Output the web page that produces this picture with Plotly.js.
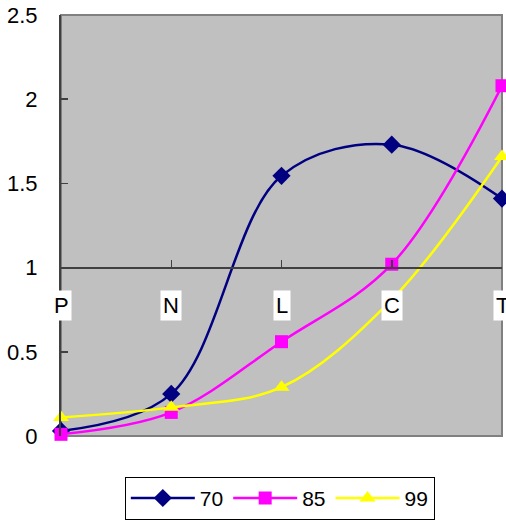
<!DOCTYPE html>
<html>
<head>
<meta charset="utf-8">
<script src="https://cdn.plot.ly/plotly-3.0.1.min.js"></script>
<style>html,body{margin:0;padding:0;background:#fff;}#chart{width:506px;height:523px;}</style>
</head>
<body>
<div id="chart"></div>
<script>
const categories = ['P', 'N', 'L', 'C', 'T'];
const seriesNames = ['70', '85', '99'];
const values70 = [0.03, 0.25, 1.545, 1.73, 1.41];
const values85 = [0.01, 0.14, 0.56, 1.02, 2.08];
const values99 = [0.11, 0.17, 0.29, 0.81, 1.66];
const yTicks = [0, 0.5, 1, 1.5, 2, 2.5];

const font = 'Liberation Sans, Arial, sans-serif';

function mk(name, y, color, symbol, size) {
  return {
    x: categories, y: y, name: name, type: 'scatter', mode: 'lines+markers',
    line: {color: color, width: 2.5, shape: 'spline', smoothing: 1},
    marker: {color: color, symbol: symbol, size: size, line: {width: 0}},
    cliponaxis: false
  };
}

const data = [
  mk(seriesNames[0], values70, '#000080', 'diamond', 14),
  mk(seriesNames[1], values85, '#FF00FF', 'square', 13),
  mk(seriesNames[2], values99, '#FFFF00', 'triangle-up', 14)
];

const annotations = categories.map(c => ({
  x: c, y: 1, xref: 'x', yref: 'y', text: c, showarrow: false,
  yanchor: 'middle', xanchor: 'center', yshift: -38,
  bgcolor: '#ffffff', borderpad: 2,
  font: {family: font, size: 22, color: '#000'}
}));

const layout = {
  width: 506, height: 523,
  margin: {l: 61, r: 4, t: 15, b: 87},
  paper_bgcolor: '#ffffff', plot_bgcolor: '#C0C0C0',
  showlegend: true,
  font: {family: font, size: 22, color: '#000'},
  xaxis: {
    type: 'category', range: [0, 4], anchor: 'free', position: 0.4,
    showline: true, linecolor: '#404040', linewidth: 2,
    ticks: 'inside', ticklen: 7, tickcolor: '#404040', tickwidth: 1.5,
    showticklabels: false, showgrid: false, zeroline: false, fixedrange: true
  },
  yaxis: {
    range: [0, 2.5], tickvals: yTicks, ticktext: yTicks.map(String),
    showline: true, linecolor: '#404040', linewidth: 2,
    ticks: 'inside', ticklen: 7, tickcolor: '#404040', tickwidth: 1.5,
    ticklabelstandoff: 17,
    tickfont: {family: font, size: 22, color: '#000'},
    showgrid: false, zeroline: false, fixedrange: true
  },
  shapes: [{
    type: 'rect', xref: 'paper', yref: 'paper', x0: 0, x1: 1, y0: 0, y1: 1,
    line: {color: '#808080', width: 2}, layer: 'below'
  }],
  annotations: annotations,
  legend: {
    orientation: 'h', xref: 'container', yref: 'container',
    x: 0.553, xanchor: 'center', y: 0.006, yanchor: 'bottom',
    bgcolor: '#ffffff', bordercolor: '#000000', borderwidth: 1,
    font: {family: font, size: 21, color: '#000'},
    itemwidth: 64, traceorder: 'normal'
  }
};

Plotly.newPlot('chart', data, layout, {displayModeBar: false, staticPlot: true});
</script>
</body>
</html>
